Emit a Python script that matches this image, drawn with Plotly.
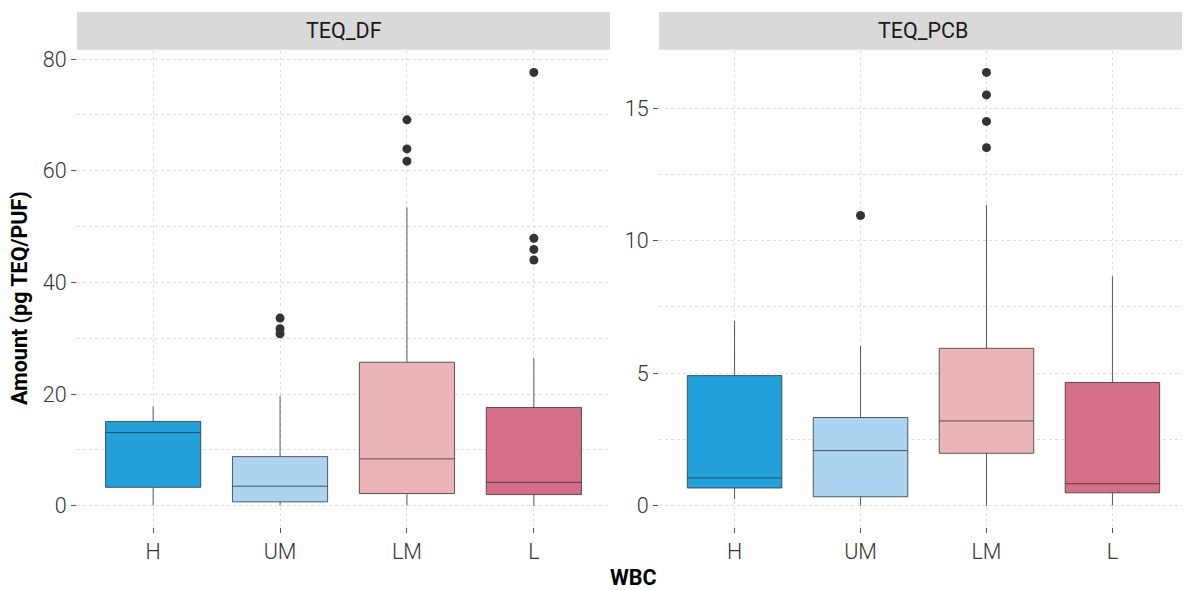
import plotly.graph_objects as go

categories = ["H", "UM", "LM", "L"]
colors = ["#22a0d9", "#acd4f0", "#ecb4b8", "#d56f89"]

# TEQ_DF box stats
df_lower = [0.0, 0.0, 0.0, 0.0]
df_q1 = [3.3, 0.7, 2.2, 2.0]
df_median = [13.1, 3.5, 8.4, 4.2]
df_q3 = [15.1, 8.8, 25.7, 17.6]
df_upper = [17.8, 19.7, 53.4, 26.4]
df_out_cat = ["UM", "UM", "UM", "LM", "LM", "LM", "L", "L", "L", "L"]
df_out_val = [33.6, 31.7, 30.8, 69.1, 63.9, 61.7, 77.6, 47.9, 45.9, 44.0]

# TEQ_PCB box stats
pcb_lower = [0.25, 0.0, 0.0, 0.0]
pcb_q1 = [0.67, 0.34, 1.98, 0.49]
pcb_median = [1.05, 2.08, 3.2, 0.83]
pcb_q3 = [4.91, 3.33, 5.94, 4.65]
pcb_upper = [6.98, 6.04, 11.35, 8.66]
pcb_out_cat = ["UM", "LM", "LM", "LM", "LM"]
pcb_out_val = [10.95, 16.35, 15.5, 14.5, 13.51]

panels = ["TEQ_DF", "TEQ_PCB"]

# page body has an 8px margin; figure sized so it fits the 1190x590 window
OFF = 8
W, H = 1190 - OFF, 590 - OFF
def px(x):
    return (x - OFF) / W
def py(y):
    return 1 - (y - OFF) / H

xdom = [[px(77), px(610)], [px(659), px(1188)]]
ydom = [py(527), py(47)]

fig = go.Figure()

line_col = "#333333"
data_sets = [
    (df_lower, df_q1, df_median, df_q3, df_upper, df_out_cat, df_out_val),
    (pcb_lower, pcb_q1, pcb_median, pcb_q3, pcb_upper, pcb_out_cat, pcb_out_val),
]

for p, (lo, q1, med, q3, up, oc, ov) in enumerate(data_sets):
    xa = "x" if p == 0 else "x2"
    ya = "y" if p == 0 else "y2"
    for i, c in enumerate(categories):
        fig.add_trace(go.Box(
            x=[c], q1=[q1[i]], median=[med[i]], q3=[q3[i]],
            lowerfence=[lo[i]], upperfence=[up[i]],
            fillcolor=colors[i], line=dict(color=line_col, width=0.8),
            whiskerwidth=0, width=0.75, boxpoints=False,
            xaxis=xa, yaxis=ya, showlegend=False, hoverinfo="skip",
        ))
    fig.add_trace(go.Scatter(
        x=oc, y=ov, mode="markers",
        marker=dict(color=line_col, size=9, line=dict(width=0)),
        xaxis=xa, yaxis=ya, showlegend=False, hoverinfo="skip",
    ))

tick_font = dict(family="Roboto", size=21.5, color="#333333", weight=300)
grid_col = "#dedede"

def yaxis_cfg(rng, tickvals, minor_dtick, anchor):
    return dict(
        domain=ydom, range=rng, tickvals=tickvals, anchor=anchor,
        showgrid=True, gridcolor=grid_col, griddash="dot", gridwidth=1,
        minor=dict(showgrid=True, dtick=minor_dtick, tick0=0, gridcolor=grid_col,
                   griddash="dot", gridwidth=1),
        zeroline=False, showline=False,
        ticks="outside", ticklen=5, tickcolor="#555555", tickwidth=1,
        tickfont=tick_font, fixedrange=True,
    )

def xaxis_cfg(dom, anchor):
    return dict(
        domain=dom, type="category", categoryorder="array", categoryarray=categories,
        range=[-0.6, 3.6], anchor=anchor,
        showgrid=True, gridcolor=grid_col, griddash="dot", gridwidth=1,
        zeroline=False, showline=False,
        ticks="outside", ticklen=5, tickcolor="#555555", tickwidth=1,
        tickfont=tick_font, fixedrange=True,
    )

df_max = max(max(df_upper), max(df_out_val))
df_min = min(df_lower)
pcb_max = max(max(pcb_upper), max(pcb_out_val))
pcb_min = min(pcb_lower)
def expand(lo, hi):
    d = (hi - lo) * 0.05
    return [lo - d, hi + d]

fig.update_layout(
    width=W, height=H,
    margin=dict(l=0, r=0, t=0, b=0),
    paper_bgcolor="white", plot_bgcolor="white",
    boxmode="overlay",
    xaxis=xaxis_cfg(xdom[0], "y"),
    xaxis2=xaxis_cfg(xdom[1], "y2"),
    yaxis=yaxis_cfg(expand(df_min, df_max), [0, 20, 40, 60, 80], 10, "x"),
    yaxis2=yaxis_cfg(expand(pcb_min, pcb_max), [0, 5, 10, 15], 2.5, "x2"),
)

# facet strips
for p, name in enumerate(panels):
    fig.add_shape(type="rect", xref="paper", yref="paper",
                  x0=xdom[p][0], x1=xdom[p][1], y0=py(46), y1=py(8),
                  fillcolor="#d9d9d9", line=dict(width=0), layer="below")
    fig.add_annotation(x=(xdom[p][0] + xdom[p][1]) / 2, y=py(27), xref="paper", yref="paper",
                       text=name, showarrow=False,
                       font=dict(family="Roboto", size=21.5, color="#1a1a1a"),
                       xanchor="center", yanchor="middle")

fig.add_annotation(x=px(19), y=py(296), xref="paper", yref="paper",
                   text="<b>Amount (pg TEQ/PUF)</b>", showarrow=False, textangle=-90,
                   font=dict(family="Roboto", size=21.5, color="#000000"),
                   xanchor="center", yanchor="middle")
fig.add_annotation(x=px(633), y=py(577), xref="paper", yref="paper",
                   text="<b>WBC</b>", showarrow=False,
                   font=dict(family="Roboto", size=21.5, color="#000000"),
                   xanchor="center", yanchor="middle")

fig.write_html("out.html")
